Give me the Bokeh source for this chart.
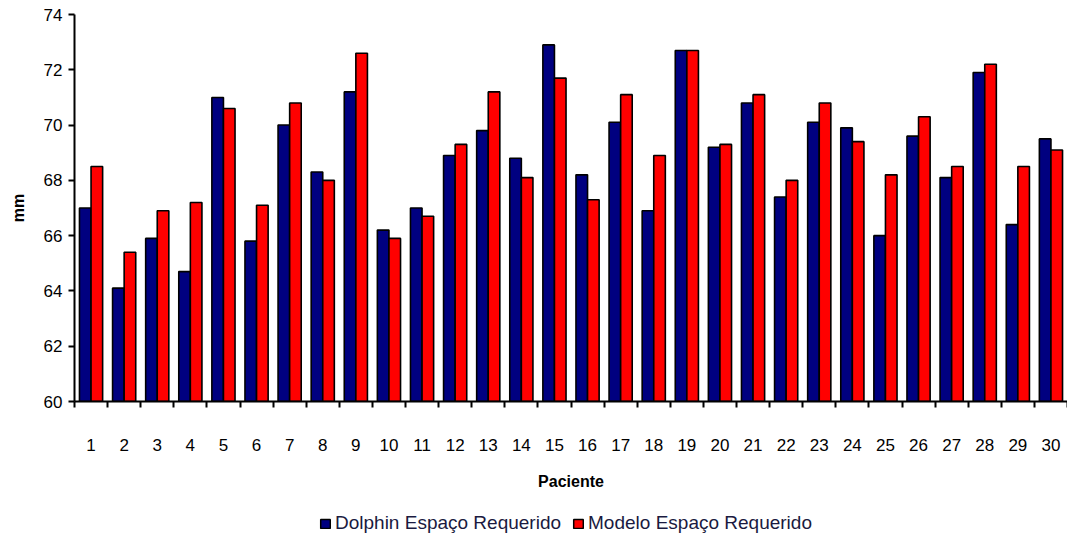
from bokeh.plotting import figure
from bokeh.layouts import column
from bokeh.models import ColumnDataSource, FixedTicker, Legend, LegendItem, Range1d
from bokeh.transform import dodge
from bokeh.embed import file_html
from bokeh.resources import INLINE

pacientes = list(range(1, 31))
dolphin = [67.0, 64.1, 65.9, 64.7, 71.0, 65.8, 70.0, 68.3, 71.2, 66.2,
           67.0, 68.9, 69.8, 68.8, 72.9, 68.2, 70.1, 66.9, 72.7, 69.2,
           70.8, 67.4, 70.1, 69.9, 66.0, 69.6, 68.1, 71.9, 66.4, 69.5]
modelo = [68.5, 65.4, 66.9, 67.2, 70.6, 67.1, 70.8, 68.0, 72.6, 65.9,
          66.7, 69.3, 71.2, 68.1, 71.7, 67.3, 71.1, 68.9, 72.7, 69.3,
          71.1, 68.0, 70.8, 69.4, 68.2, 70.3, 68.5, 72.2, 68.5, 69.1]
y_ticks = [60, 62, 64, 66, 68, 70, 72, 74]
series_names = ["Dolphin Espaço Requerido", "Modelo Espaço Requerido"]
colors = ["#000080", "#FF0000"]

src = ColumnDataSource(dict(x=pacientes, dolphin=dolphin, modelo=modelo))

p = figure(width=1067, height=500, output_backend="svg", toolbar_location=None,
           x_range=Range1d(0.5, 30.5), y_range=Range1d(60, 74),
           min_border_left=74, min_border_right=0, min_border_top=14,
           min_border_bottom=99)
p.outline_line_color = None
p.xgrid.visible = False
p.ygrid.visible = False

p.vbar(x=dodge("x", -0.175), top="dolphin", bottom=60, width=0.35, source=src,
       fill_color=colors[0], line_color="black", line_width=1.6)
p.vbar(x=dodge("x", 0.175), top="modelo", bottom=60, width=0.35, source=src,
       fill_color=colors[1], line_color="black", line_width=1.6)

font = "Liberation Sans"
xa = p.xaxis[0]
xa.ticker = FixedTicker(ticks=pacientes, minor_ticks=[i + 0.5 for i in range(0, 31)])
xa.major_tick_out = 0
xa.major_tick_in = 0
xa.minor_tick_out = 6
xa.minor_tick_in = 0
xa.minor_tick_line_width = 2
xa.axis_line_width = 2
xa.major_label_standoff = 31
xa.major_label_text_font = font
xa.major_label_text_font_size = "17px"
xa.major_label_text_color = "black"
xa.axis_label = "Paciente"
xa.axis_label_text_font = font
xa.axis_label_text_font_style = "bold"
xa.axis_label_text_font_size = "16px"
xa.axis_label_text_color = "black"
xa.axis_label_standoff = 19

ya = p.yaxis[0]
ya.ticker = FixedTicker(ticks=y_ticks, minor_ticks=[])
ya.major_tick_out = 6
ya.major_tick_in = 0
ya.major_tick_line_width = 2
ya.axis_line_width = 2
ya.major_label_standoff = 6
ya.major_label_text_font = font
ya.major_label_text_font_size = "17px"
ya.major_label_text_color = "black"
ya.axis_label = "mm"
ya.axis_label_text_font = font
ya.axis_label_text_font_style = "bold"
ya.axis_label_text_font_size = "16px"
ya.axis_label_text_color = "black"
ya.axis_label_standoff = 14

# legend strip below the chart
lg = figure(width=1067, height=34, output_backend="svg", toolbar_location=None,
            x_range=Range1d(0, 1), y_range=Range1d(0, 1),
            x_axis_location=None, y_axis_location=None,
            min_border_left=0, min_border_right=0, min_border_top=0,
            min_border_bottom=0)
lg.grid.visible = False
lg.outline_line_color = None
k1 = lg.rect(x=[-5], y=[-5], width=0.01, height=0.01,
             fill_color=colors[0], line_color="black", line_width=1.5)
k2 = lg.rect(x=[-5], y=[-5], width=0.01, height=0.01,
             fill_color=colors[1], line_color="black", line_width=1.5)
legend = Legend(items=[LegendItem(label=series_names[0], renderers=[k1]),
                       LegendItem(label=series_names[1], renderers=[k2])],
                orientation="horizontal", location=(245, 0),
                label_text_font=font, label_text_font_size="19px",
                label_text_color="#1a1a40",
                glyph_width=12, glyph_height=11, spacing=11, label_standoff=4,
                padding=0, margin=0, border_line_color=None,
                background_fill_alpha=0)
lg.add_layout(legend, "center")

layout = column(p, lg, spacing=0)
open("out.html", "w").write(file_html(layout, INLINE))
